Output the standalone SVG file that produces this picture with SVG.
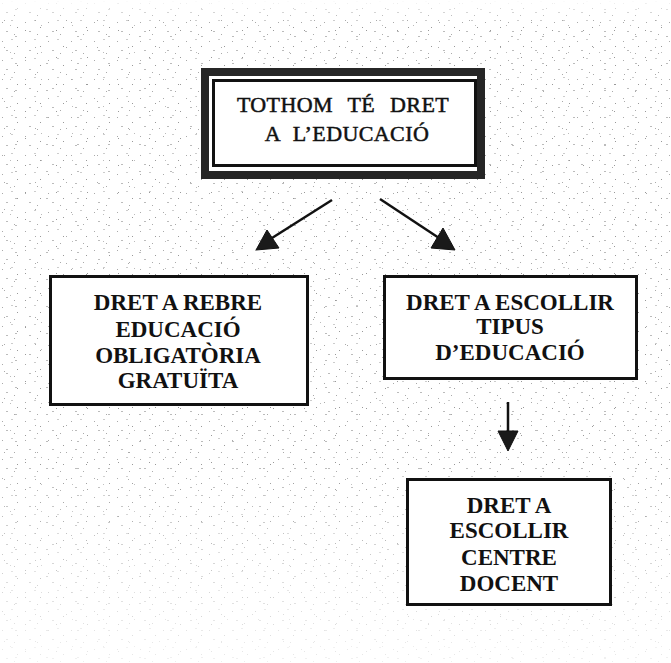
<svg xmlns="http://www.w3.org/2000/svg" width="671" height="663" viewBox="0 0 671 663">
  <style>
    .box { fill: #ffffff; stroke: #111111; stroke-width: 3; }
    .t { font-family: "Liberation Serif", "Times New Roman", serif; font-size: 23px; font-weight: bold; fill: #111111; text-anchor: middle; }
    .tt { font-family: "Liberation Serif", "Times New Roman", serif; font-size: 22px; fill: #111111; stroke: #111111; stroke-width: 0.5; text-anchor: middle; letter-spacing: 0.4px; }
    .line { stroke: #111111; stroke-width: 2.5; fill: none; }
    .head { fill: #1a1a1a; stroke: #111111; stroke-width: 1; }
  </style>
  <defs>
    <pattern id="speck1" width="23" height="19" patternUnits="userSpaceOnUse">
      <rect x="2" y="3" width="1" height="1" fill="#aaa"/>
      <rect x="11" y="1" width="2" height="1" fill="#ccc"/>
      <rect x="17" y="8" width="1" height="1" fill="#999"/>
      <rect x="6" y="12" width="2" height="1" fill="#bbb"/>
      <rect x="14" y="15" width="1" height="1" fill="#aaa"/>
    </pattern>
    <pattern id="speck2" width="31" height="27" patternUnits="userSpaceOnUse">
      <rect x="4" y="20" width="1" height="1" fill="#aaa"/>
      <rect x="15" y="9" width="2" height="1" fill="#bbb"/>
      <rect x="25" y="3" width="1" height="1" fill="#999"/>
      <rect x="10" y="25" width="1" height="1" fill="#bbb"/>
    </pattern>
    <linearGradient id="fade" x1="0" y1="0" x2="0" y2="1">
      <stop offset="0" stop-color="#fff" stop-opacity="0"/>
      <stop offset="0.03" stop-color="#fff" stop-opacity="1"/>
      <stop offset="0.7" stop-color="#fff" stop-opacity="1"/>
      <stop offset="1" stop-color="#fff" stop-opacity="0.2"/>
    </linearGradient>
    <mask id="m">
      <rect x="0" y="0" width="671" height="663" fill="url(#fade)"/>
    </mask>
  </defs>

  <g id="background">
    <rect x="0" y="0" width="671" height="663" fill="#ffffff"/>
    <g mask="url(#m)">
      <rect x="0" y="0" width="671" height="663" fill="url(#speck1)"/>
      <rect x="0" y="0" width="671" height="663" fill="url(#speck2)"/>
    </g>
  </g>

  <g id="connectors">
    <line class="line" x1="332" y1="200" x2="272" y2="238"/>
    <polygon class="head" points="267,230 256,250 279,248"/>
    <line class="line" x1="380" y1="199" x2="439" y2="238"/>
    <polygon class="head" points="443,228 431,248 455,250"/>
    <line class="line" x1="508" y1="402" x2="508" y2="432"/>
    <polygon class="head" points="498,431 518,431 508,451"/>
  </g>

  <g id="node-root">
    <rect x="205" y="72" width="276" height="103" fill="#ffffff" stroke="#262626" stroke-width="8"/>
    <rect x="213.5" y="80.5" width="262" height="85" fill="#ffffff" stroke="#111111" stroke-width="3"/>
    <text class="tt" x="343" y="112" word-spacing="9">TOTHOM TÉ DRET</text>
    <text class="tt" x="347" y="141" word-spacing="7">A L’EDUCACIÓ</text>
  </g>

  <g id="node-obligatoria">
    <rect class="box" x="50.5" y="276.5" width="257" height="128"/>
    <text class="t" x="178" y="310">DRET A REBRE</text>
    <text class="t" x="178" y="337">EDUCACIÓ</text>
    <text class="t" x="178" y="363">OBLIGATÒRIA</text>
    <text class="t" x="178" y="388">GRATUÏTA</text>
  </g>

  <g id="node-tipus">
    <rect class="box" x="384.5" y="276.5" width="252" height="102"/>
    <text class="t" x="510" y="310">DRET A ESCOLLIR</text>
    <text class="t" x="510" y="334">TIPUS</text>
    <text class="t" x="510" y="360">D’EDUCACIÓ</text>
  </g>

  <g id="node-centre">
    <rect class="box" x="407.5" y="479.5" width="203" height="125"/>
    <text class="t" x="509" y="513">DRET A</text>
    <text class="t" x="509" y="538">ESCOLLIR</text>
    <text class="t" x="509" y="565">CENTRE</text>
    <text class="t" x="509" y="591">DOCENT</text>
  </g>
</svg>
